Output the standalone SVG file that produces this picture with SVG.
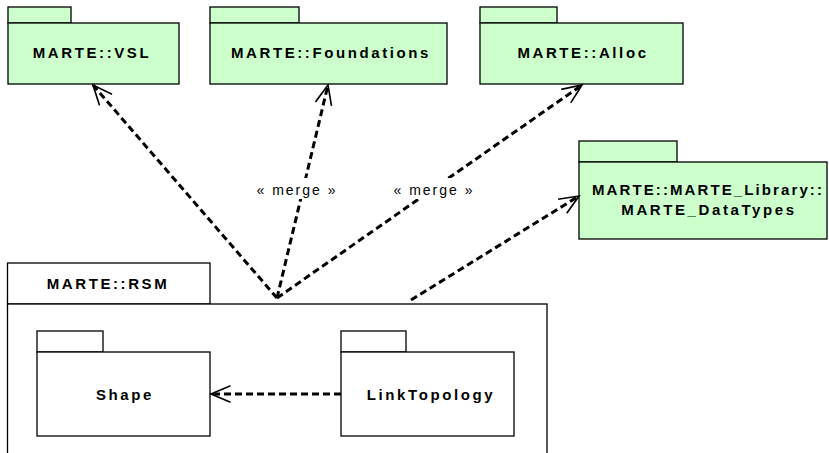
<svg xmlns="http://www.w3.org/2000/svg" width="829" height="453" viewBox="0 0 829 453">
<defs>
<style>
.pkg{fill:#ccffcc;stroke:#000;stroke-width:1.3}
.wpkg{fill:#fff;stroke:#000;stroke-width:1.3}
.name{font-family:"Liberation Sans",Arial,sans-serif;font-size:15px;font-weight:bold;letter-spacing:2.6px;fill:#000;text-anchor:middle}
.lbl{font-family:"Liberation Sans",Arial,sans-serif;font-size:14px;letter-spacing:2px;fill:#000;text-anchor:middle}
.dep{fill:none;stroke:#000;stroke-width:3;stroke-dasharray:7 4;marker-end:url(#open)}
</style>
<marker id="open" markerUnits="userSpaceOnUse" markerWidth="30" markerHeight="30" refX="0" refY="0" viewBox="-16 -10 20 20" orient="auto">
<path d="M-13,-5.5 L0,0 L-13,5.5" fill="none" stroke="#000" stroke-width="1.1" stroke-dasharray="none"/>
</marker>
</defs>
<rect width="829" height="453" fill="#fff"/>

<g id="rsm">
<rect class="wpkg" x="7.5" y="263" width="202.5" height="41"/>
<rect class="wpkg" x="7.5" y="304" width="539.5" height="160"/>
<text class="name" x="108" y="289">MARTE::RSM</text>
</g>

<g id="vsl">
<rect class="pkg" x="8" y="7" width="63" height="16"/>
<rect class="pkg" x="8" y="23" width="171" height="61"/>
<text class="name" x="92" y="58">MARTE::VSL</text>
</g>

<g id="foundations">
<rect class="pkg" x="210" y="7" width="89" height="16"/>
<rect class="pkg" x="210" y="23" width="237" height="61"/>
<text class="name" x="331" y="58">MARTE::Foundations</text>
</g>

<g id="alloc">
<rect class="pkg" x="480" y="7" width="77" height="16"/>
<rect class="pkg" x="480" y="23" width="203" height="61"/>
<text class="name" x="583" y="58">MARTE::Alloc</text>
</g>

<g id="datatypes">
<rect class="pkg" x="579" y="141" width="98" height="21"/>
<rect class="pkg" x="579" y="162" width="248" height="77"/>
<text class="name" x="708" y="195" style="letter-spacing:2.1px">MARTE::MARTE_Library::</text>
<text class="name" x="709" y="215">MARTE_DataTypes</text>
</g>

<g id="shape">
<rect class="wpkg" x="37" y="331" width="66" height="21"/>
<rect class="wpkg" x="37" y="352" width="173" height="84"/>
<text class="name" x="125" y="400">Shape</text>
</g>

<g id="linktopology">
<rect class="wpkg" x="341" y="331" width="65" height="21"/>
<rect class="wpkg" x="341" y="352" width="173" height="84"/>
<text class="name" x="431" y="400">LinkTopology</text>
</g>

<g id="connectors">
<path class="dep" d="M277,298 L93,85"/>
<path class="dep" d="M277,298 L328,85"/>
<path class="dep" d="M277,298 L582,85"/>
<path class="dep" d="M411,300 L579,196"/>
<path class="dep" d="M341,394 L211,394"/>
<rect x="254" y="178" width="86" height="21" fill="#fff"/>
<text class="lbl" x="297" y="195">« merge »</text>
<rect x="389" y="178" width="88" height="21" fill="#fff"/>
<text class="lbl" x="434" y="195">« merge »</text>
</g>
</svg>
